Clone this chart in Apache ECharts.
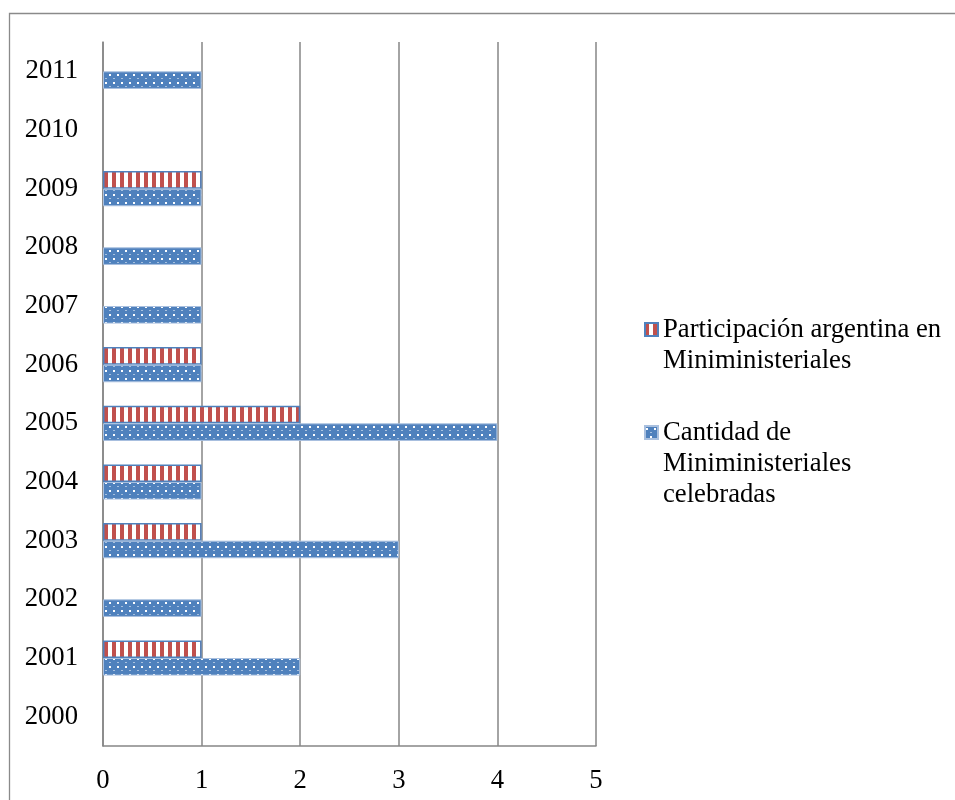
<!DOCTYPE html>
<html>
<head>
<meta charset="utf-8">
<script src="https://cdn.jsdelivr.net/npm/echarts@6/dist/echarts.min.js"></script>
<style>
  html, body { margin: 0; padding: 0; background: #fff; }
  #chart { width: 955px; height: 800px; }
</style>
</head>
<body>
<div id="chart"></div>
<script>
// Years on the category axis (bottom to top)
var years = ['2000', '2001', '2002', '2003', '2004', '2005', '2006', '2007', '2008', '2009', '2010', '2011'];
// Argentine participation in mini-ministerial meetings
var participacion = [0, 1, 0, 1, 1, 2, 1, 0, 0, 1, 0, 0];
// Number of mini-ministerial meetings held
var cantidad = [0, 2, 1, 3, 1, 4, 1, 1, 1, 1, 0, 1];
var xTicks = [0, 1, 2, 3, 4, 5];

var serieNames = ['Participación argentina en Miniministeriales', 'Cantidad de Miniministeriales celebradas'];
// Leading blank lines keep the legend marker level with the first text line
var legendLabels = ['\nParticipación argentina en\nMiniministeriales', '\n\nCantidad de\nMiniministeriales\ncelebradas'];

var FONT = '"Liberation Serif", "Times New Roman", serif';
var FONT_SIZE = 26.7;
var BLUE = '#4F81BD';
var RED = '#C0504D';

// Vertical red stripes on white
function stripePattern() {
  var c = document.createElement('canvas');
  c.width = 8; c.height = 8;
  var g = c.getContext('2d');
  g.fillStyle = '#ffffff';
  g.fillRect(0, 0, 8, 8);
  g.fillStyle = RED;
  g.fillRect(0, 0, 4, 8);
  return c;
}
// Staggered white dots on blue
function dotPattern() {
  var c = document.createElement('canvas');
  c.width = 8; c.height = 16;
  var g = c.getContext('2d');
  g.fillStyle = BLUE;
  g.fillRect(0, 0, 8, 16);
  g.fillStyle = '#ffffff';
  g.fillRect(1, 2, 2, 2);
  g.fillRect(5, 10, 2, 2);
  g.fillStyle = 'rgba(255,255,255,0.5)';
  g.fillRect(5, 6, 2, 1);
  g.fillRect(1, 14, 2, 1);
  return c;
}

// Zero-length bars get no outline so nothing is drawn for them
function barData(values) {
  return values.map(function (v) {
    return v === 0 ? { value: v, itemStyle: { borderWidth: 0 } } : v;
  });
}

var chart = echarts.init(document.getElementById('chart'), null, { renderer: 'canvas' });

var legendBase = {
  left: 644, padding: 0,
  itemWidth: 13, itemHeight: 13, icon: 'rect',
  selectedMode: false
};

var option = {
  animation: false,
  backgroundColor: '#ffffff',
  graphic: [{
    type: 'rect',
    shape: { x: 9.5, y: 13.5, width: 2000, height: 2000 },
    style: { fill: 'none', stroke: '#8a8a8a', lineWidth: 1.3 },
    silent: true,
    z: 0
  }],
  grid: { left: 103, right: 359, top: 42, bottom: 54, containLabel: false },
  xAxis: {
    type: 'value',
    min: xTicks[0],
    max: xTicks[xTicks.length - 1],
    interval: 1,
    axisLine: { show: true, lineStyle: { color: '#868686', width: 1.5 } },
    axisTick: { show: false },
    splitLine: { show: true, lineStyle: { color: '#868686', width: 1.5 } },
    axisLabel: { color: '#000', fontFamily: FONT, fontSize: FONT_SIZE, margin: 21 }
  },
  yAxis: {
    type: 'category',
    data: years,
    axisLine: { show: true, lineStyle: { color: '#868686', width: 1.5 } },
    axisTick: { show: false },
    axisLabel: { color: '#000', fontFamily: FONT, fontSize: FONT_SIZE, margin: 25 }
  },
  legend: [
    Object.assign({}, legendBase, {
      data: [serieNames[0]],
      top: 283,
      formatter: function () { return legendLabels[0]; },
      textStyle: { fontFamily: FONT, fontSize: FONT_SIZE, color: '#000', lineHeight: 31 }
    }),
    Object.assign({}, legendBase, {
      data: [serieNames[1]],
      top: 355,
      formatter: function () { return legendLabels[1]; },
      textStyle: { fontFamily: FONT, fontSize: FONT_SIZE, color: '#000', lineHeight: 31 }
    })
  ],
  series: [{
    name: serieNames[0],
    type: 'bar',
    data: barData(participacion),
    barCategoryGap: '40%',
    barGap: '0%',
    itemStyle: { color: { image: stripePattern(), repeat: 'repeat' }, borderColor: BLUE, borderWidth: 1.5 }
  }, {
    name: serieNames[1],
    type: 'bar',
    data: barData(cantidad),
    barCategoryGap: '40%',
    barGap: '0%',
    itemStyle: { color: { image: dotPattern(), repeat: 'repeat' }, borderColor: '#a9c0df', borderWidth: 1 }
  }]
};
chart.setOption(option);
</script>
</body>
</html>
